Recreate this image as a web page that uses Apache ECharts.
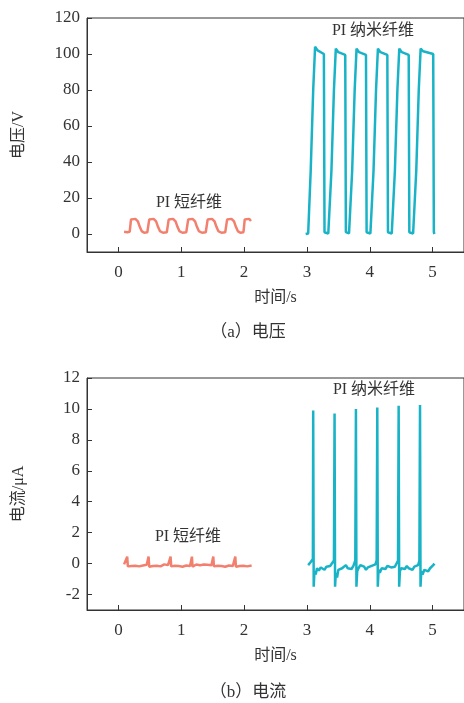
<!doctype html>
<html lang="zh">
<head>
    <meta charset="UTF-8">
    <title>电压与电流</title>
    <style>
        *{margin: 0; padding: 0}
        body{background: #fff}
    </style>
</head>
<body>
<div id="block" style="width:464px;height:703px"></div>

<script src="https://cdn.jsdelivr.net/npm/echarts@6/dist/echarts.min.js"></script>
<script>
    // data: [time/s, value]
    const xTicks = [0, 1, 2, 3, 4, 5];
    const voltTicks = [0, 20, 40, 60, 80, 100, 120];
    const currTicks = [-2, 0, 2, 4, 6, 8, 10, 12];

    // (a) voltage, PI short fibre
    const voltShort = [
        [0.09,1.2],[0.14,1.0],[0.18,1.3],
        [0.20,8.0],[0.22,8.9],[0.27,8.4],[0.31,7.0],[0.34,4.0],[0.37,1.6],[0.41,0.7],[0.46,1.0],
        [0.49,8.0],[0.51,8.9],[0.56,8.4],[0.60,7.0],[0.63,4.0],[0.66,1.6],[0.71,0.7],[0.77,1.0],
        [0.80,8.0],[0.82,8.9],[0.87,8.4],[0.91,7.0],[0.94,4.0],[0.97,1.6],[1.02,0.7],[1.08,1.0],
        [1.11,8.0],[1.13,8.9],[1.18,8.4],[1.22,7.0],[1.25,4.0],[1.28,1.6],[1.33,0.7],[1.39,1.0],
        [1.42,8.0],[1.44,8.9],[1.49,8.4],[1.53,7.0],[1.56,4.0],[1.59,1.6],[1.64,0.7],[1.70,1.0],
        [1.73,8.0],[1.75,8.9],[1.80,8.4],[1.84,7.0],[1.87,4.0],[1.90,1.6],[1.94,0.7],[1.99,1.0],
        [2.01,8.0],[2.03,8.9],[2.08,8.4],[2.11,7.2]
    ];
    // (a) voltage, PI nanofibre
    const voltNano = [
        [2.98,0],[3.02,0.3],
        [3.04,1],[3.06,35],[3.10,80],[3.13,104],[3.17,102],[3.27,100],[3.28,1],[3.29,0],[3.34,0.3],
        [3.37,1],[3.39,35],[3.43,80],[3.46,103],[3.50,101],[3.61,99.5],[3.62,1],[3.63,0],[3.67,0.3],
        [3.70,1],[3.72,35],[3.76,80],[3.79,103],[3.83,101],[3.94,99.5],[3.95,1],[3.96,0],[4.01,0.3],
        [4.04,1],[4.06,35],[4.10,80],[4.13,103],[4.17,101],[4.28,99.5],[4.29,1],[4.30,0],[4.35,0.3],
        [4.38,1],[4.40,35],[4.44,80],[4.47,103],[4.51,101],[4.62,99.5],[4.63,1],[4.64,0],[4.69,0.3],
        [4.72,1],[4.74,35],[4.78,80],[4.81,103],[4.85,101.5],[5.01,100],[5.02,1],[5.03,0]
    ];
    // (b) current, PI short fibre
    const currShort = [
        [0.09,-0.05],[0.12,-0.12],[0.14,0.45],[0.15,-0.18],[0.18,-0.08],[0.21,-0.15],[0.24,-0.05],
        [0.27,-0.14],[0.30,-0.1],[0.33,-0.18],[0.36,-0.06],[0.39,-0.12],[0.42,-0.2],[0.45,-0.08],
        [0.48,0.45],[0.49,-0.2],[0.52,-0.1],[0.55,-0.16],[0.58,-0.06],[0.61,-0.14],[0.64,-0.08],
        [0.67,-0.18],[0.70,-0.1],[0.73,-0.05],[0.76,-0.15],[0.79,-0.1],[0.83,0.45],[0.84,-0.18],
        [0.87,-0.08],[0.90,-0.14],[0.93,-0.04],[0.96,-0.16],[0.99,-0.1],[1.02,-0.2],[1.05,-0.08],
        [1.08,-0.12],[1.11,-0.05],[1.14,-0.15],[1.17,0.45],[1.18,-0.2],[1.21,-0.1],[1.24,-0.06],
        [1.27,-0.16],[1.30,-0.1],[1.33,-0.18],[1.36,-0.06],[1.39,-0.12],[1.42,-0.08],[1.45,-0.17],
        [1.48,-0.1],[1.51,0.45],[1.52,-0.18],[1.55,-0.08],[1.58,-0.14],[1.61,-0.05],[1.64,-0.15],
        [1.67,-0.1],[1.70,-0.2],[1.73,-0.08],[1.76,-0.12],[1.79,-0.05],[1.82,-0.16],[1.86,0.45],
        [1.87,-0.2],[1.90,-0.1],[1.93,-0.15],[1.96,-0.06],[1.99,-0.14],[2.02,-0.08],[2.05,-0.18],
        [2.08,-0.1],[2.12,-0.12]
    ];
    // (b) current, PI nanofibre
    const currNano = [
        [3.02,-0.1],[3.04,-0.05],[3.06,0.1],[3.08,0.2],[3.095,0.3],[3.10,9.9],[3.108,-1.5],[3.12,-0.5],
        [3.14,-0.7],[3.16,-0.3],[3.19,-0.45],[3.22,-0.25],[3.25,-0.2],[3.28,-0.4],[3.31,-0.2],[3.34,-0.3],
        [3.37,-0.15],[3.40,-0.1],[3.43,0.2],[3.44,9.7],[3.448,-1.5],[3.46,-0.6],[3.48,-0.9],[3.50,-0.4],
        [3.53,-0.5],[3.56,-0.3],[3.59,-0.25],[3.62,-0.1],[3.65,-0.3],[3.68,-0.2],[3.71,-0.35],[3.74,-0.15],
        [3.77,0.2],[3.78,10.0],[3.788,-1.5],[3.80,-0.5],[3.82,-0.3],[3.85,-0.1],[3.88,0.0],[3.91,-0.2],
        [3.94,-0.4],[3.97,-0.25],[4.00,-0.3],[4.03,-0.15],[4.06,-0.2],[4.09,-0.05],[4.11,0.2],[4.12,10.1],
        [4.128,-1.5],[4.14,-0.4],[4.16,-0.6],[4.19,-0.3],[4.22,-0.2],[4.25,-0.35],[4.28,-0.15],[4.31,-0.05],
        [4.34,-0.25],[4.37,-0.3],[4.40,-0.2],[4.43,-0.1],[4.45,0.2],[4.46,10.2],[4.468,-1.5],[4.48,-0.5],
        [4.50,-0.3],[4.53,-0.2],[4.56,-0.35],[4.59,-0.15],[4.62,-0.3],[4.65,-0.25],[4.68,-0.4],[4.71,-0.2],
        [4.74,-0.3],[4.77,-0.1],[4.79,0.2],[4.80,10.25],[4.808,-1.5],[4.82,-0.5],[4.84,-0.7],[4.87,-0.4],
        [4.90,-0.3],[4.93,-0.5],[4.96,-0.3],[4.99,-0.2],[5.01,-0.1],[5.03,0.0]
    ];
</script>
<script>
    const FONT = "Liberation Serif, Noto Sans CJK SC, serif";
    const TXT = '#333';
    const ORANGE = '#f3806e', TEAL = '#18b3c6';

    const xAxisOf = function(gridIndex) {
        return {
            type: 'value', gridIndex: gridIndex, min: -0.5, max: 5.5,
            name: '时间/s', nameLocation: 'middle', nameGap: 38,
            nameTextStyle: {fontFamily: FONT, fontSize: 16, color: TXT},
            axisLine: {onZero: false, lineStyle: {color: TXT, width: 1}},
            axisTick: {inside: true, length: 5, customValues: xTicks, lineStyle: {color: TXT}},
            axisLabel: {customValues: xTicks, fontFamily: FONT, fontSize: 17, color: TXT, margin: 12},
            splitLine: {show: false}
        };
    };
    const yAxisOf = function(gridIndex, min, max, ticks, name) {
        return {
            type: 'value', gridIndex: gridIndex, min: min, max: max,
            name: name, nameLocation: 'middle', nameGap: 60,
            nameTextStyle: {fontFamily: FONT, fontSize: 16, color: TXT},
            axisLine: {onZero: false, lineStyle: {color: TXT, width: 1}},
            axisTick: {inside: true, length: 5, customValues: ticks, lineStyle: {color: TXT}},
            axisLabel: {customValues: ticks, fontFamily: FONT, fontSize: 17, color: TXT, margin: 7},
            splitLine: {show: false}
        };
    };
    const lineOf = function(data, color, xi, yi) {
        return {
            type: 'line', data: data, xAxisIndex: xi, yAxisIndex: yi,
            symbol: 'none', smooth: false,
            lineStyle: {color: color, width: 2.5}
        };
    };
    const textOf = function(text, x, y, size) {
        return {
            type: 'text', x: x, y: y,
            style: {text: text, fill: TXT, font: size + 'px ' + FONT, textAlign: 'center', textVerticalAlign: 'middle'}
        };
    };

    const chart = echarts.init(document.getElementById('block'));
    chart.setOption({
        animation: false,
        grid: [
            {left: 87, right: -1, top: 18, height: 234, show: true, borderColor: TXT, borderWidth: 1},
            {left: 87, right: -1, top: 378, height: 232, show: true, borderColor: TXT, borderWidth: 1}
        ],
        xAxis: [xAxisOf(0), xAxisOf(1)],
        yAxis: [
            yAxisOf(0, -10, 120, voltTicks, '电压/V'),
            yAxisOf(1, -3, 12, currTicks, '电流/μA')
        ],
        series: [
            lineOf(voltShort, ORANGE, 0, 0),
            lineOf(voltNano, TEAL, 0, 0),
            lineOf(currShort, ORANGE, 1, 1),
            lineOf(currNano, TEAL, 1, 1)
        ],
        graphic: [
            textOf('PI 短纤维', 189, 203, 16),
            textOf('PI 纳米纤维', 373, 31, 16),
            textOf('PI 纳米纤维', 374, 390, 16),
            textOf('PI 短纤维', 188, 537, 16),
            textOf('（a）电压', 248, 333, 17),
            textOf('（b）电流', 248, 693, 17)
        ]
    });
</script>
</body>
</html>
